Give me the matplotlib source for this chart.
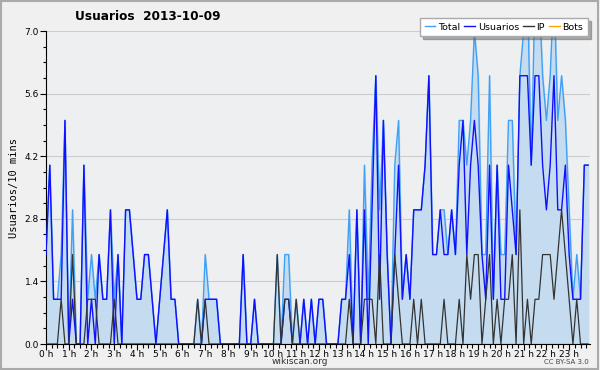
import numpy as np
import matplotlib
matplotlib.use("Agg")
import matplotlib.pyplot as plt
from matplotlib.ticker import MultipleLocator, FixedLocator, FormatStrFormatter

title = "Usuarios  2013-10-09"
hour_labels = ["%d h" % h for h in range(24)]

# one value per 10 minutes (144 slots); totals above 7 are cut by the axis
total = [2, 4, 1, 1, 2, 5, 0, 3, 0, 0, 4, 1, 2, 1, 2, 1, 1, 3, 1, 2,
         0, 3, 3, 2, 1, 1, 2, 2, 1, 0, 1, 2, 3, 1, 1, 0, 0, 0, 0, 0,
         1, 0, 2, 1, 1, 1, 0, 0, 0, 0, 0, 0, 2, 0, 0, 1, 0, 0, 0, 0,
         0, 2, 0, 2, 2, 0, 1, 0, 1, 0, 1, 0, 1, 1, 0, 0, 0, 0, 1, 1,
         3, 0, 3, 0, 4, 1, 4, 6, 3, 5, 2, 0, 4, 5, 1, 2, 1, 3, 3, 3,
         4, 6, 2, 2, 3, 3, 2, 3, 2, 5, 5, 4, 5, 7, 6, 2, 2, 6, 1, 4,
         2, 2, 5, 5, 2, 6, 7, 8, 4, 8, 8, 6, 5, 6, 8, 5, 6, 5, 3, 1,
         2, 1, 4, 4]
usuarios = [2, 4, 1, 1, 1, 5, 0, 1, 0, 0, 4, 0, 1, 0, 2, 1, 1, 3, 0, 2,
            0, 3, 3, 2, 1, 1, 2, 2, 1, 0, 1, 2, 3, 1, 1, 0, 0, 0, 0, 0,
            0, 0, 1, 1, 1, 1, 0, 0, 0, 0, 0, 0, 2, 0, 0, 1, 0, 0, 0, 0,
            0, 0, 0, 1, 1, 0, 0, 0, 1, 0, 1, 0, 1, 1, 0, 0, 0, 0, 1, 1,
            2, 0, 3, 0, 3, 0, 3, 6, 1, 5, 2, 0, 2, 4, 1, 2, 1, 3, 3, 3,
            4, 6, 2, 2, 3, 2, 2, 3, 2, 4, 5, 2, 4, 5, 4, 2, 1, 4, 1, 4,
            1, 1, 4, 3, 2, 6, 6, 6, 4, 6, 6, 4, 3, 4, 6, 3, 3, 4, 2, 1,
            1, 1, 4, 4]
ip = [0, 0, 0, 0, 1, 0, 0, 2, 0, 0, 0, 1, 1, 1, 0, 0, 0, 0, 1, 0,
      0, 0, 0, 0, 0, 0, 0, 0, 0, 0, 0, 0, 0, 0, 0, 0, 0, 0, 0, 0,
      1, 0, 1, 0, 0, 0, 0, 0, 0, 0, 0, 0, 0, 0, 0, 0, 0, 0, 0, 0,
      0, 2, 0, 1, 1, 0, 1, 0, 0, 0, 0, 0, 0, 0, 0, 0, 0, 0, 0, 0,
      1, 0, 0, 0, 1, 1, 1, 0, 2, 0, 0, 0, 2, 1, 0, 0, 0, 1, 0, 1,
      0, 0, 0, 0, 0, 1, 0, 0, 0, 1, 0, 2, 1, 2, 2, 0, 1, 2, 0, 1,
      0, 1, 1, 2, 0, 3, 0, 1, 0, 1, 1, 2, 2, 2, 1, 2, 3, 2, 1, 0,
      1, 0, 0, 0]
bots = [0] * 144

x = np.arange(len(total))

fig = plt.figure(figsize=(6, 3.7), dpi=100, facecolor="#f0f0f0")
fig.patches.append(plt.Rectangle((0.002, 0.003), 0.995, 0.994, transform=fig.transFigure,
                                 fill=False, edgecolor="#aaaaaa", linewidth=1.5))
ax = fig.add_axes([46 / 600, 26 / 370, 544 / 600, 313 / 370])
ax.set_facecolor("#eeeff1")

ax.fill_between(x, total, color="#c5dcf0", zorder=1)
ax.plot(x, bots, color="#ffa500", lw=1, zorder=1.5)
ax.plot(x, total, color="#3fa0f5", lw=1, zorder=2)
ax.plot(x, usuarios, color="#1010ff", lw=1, zorder=3)
ax.plot(x, ip, color="#333333", lw=0.9, zorder=4)

ax.set_xlim(0, 143.5)
ax.set_ylim(0, 7)
ax.yaxis.set_major_locator(MultipleLocator(1.4))
ax.yaxis.set_minor_locator(MultipleLocator(0.35))
ax.yaxis.set_major_formatter(FormatStrFormatter("%.1f"))
ax.xaxis.set_major_locator(FixedLocator(np.arange(0, 144, 6)))
ax.xaxis.set_minor_locator(MultipleLocator(1.5))
ax.set_xticklabels(hour_labels)
ax.tick_params(axis="y", labelsize=6.5, length=4, width=0.8, pad=1)
ax.tick_params(axis="y", which="minor", length=2.5, width=0.8)
ax.tick_params(axis="x", labelsize=6.5, length=4, width=0.8, pad=0)
ax.tick_params(axis="x", which="minor", length=3, width=0.8)
ax.grid(axis="y", color="#cccccc", lw=0.8, zorder=0)
ax.set_axisbelow(True)
ax.spines["top"].set_visible(False)
ax.spines["right"].set_visible(False)

ax.set_ylabel("Usuarios/10 mins", fontsize=7.5, family="DejaVu Sans Mono", labelpad=4)

fig.text(75 / 600, 1 - 17 / 370, title, fontsize=8.7, fontweight="bold", va="center")
fig.text(300 / 600, 1 - 362 / 370, "wikiscan.org", fontsize=6.5, ha="center", va="center",
         color="#333333")
fig.text(589 / 600, 1 - 362 / 370, "CC BY-SA 3.0", fontsize=5, ha="right", va="center",
         color="#444444")

handles = [plt.Line2D([], [], color=c, lw=1) for c in ["#3fa0f5", "#1010ff", "#333333", "#ffa500"]]
leg = fig.legend(handles, ["Total", "Usuarios", "IP", "Bots"], loc="upper right",
                 bbox_to_anchor=(588 / 600, 1 - 18 / 370), ncol=4, fontsize=6.8,
                 frameon=True, fancybox=False, shadow={"color": "#666666"}, handlelength=1.1,
                 handletextpad=0.3, columnspacing=0.45, borderpad=0.5, borderaxespad=0)
leg.get_frame().set_edgecolor("#aaaaaa")
leg.get_frame().set_facecolor("white")

fig.savefig("out.png", dpi=100, facecolor=fig.get_facecolor())
